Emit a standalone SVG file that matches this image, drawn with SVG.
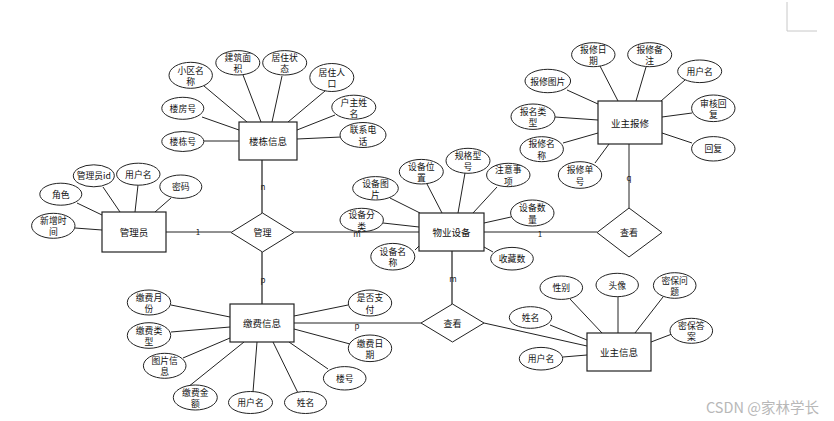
<svg xmlns="http://www.w3.org/2000/svg" width="834" height="421" viewBox="0 0 834 421">
<style>
text{font-family:"Noto Sans CJK SC","Liberation Sans",sans-serif;fill:#111;text-anchor:middle;dominant-baseline:central}
.ent rect{fill:#fff;stroke:#222;stroke-width:1.2}
.ent text{font-size:9.5px}
.attr ellipse{fill:#fff;stroke:#222;stroke-width:1}
.attr text{font-size:8.8px}
.rel polygon{fill:#fff;stroke:#222;stroke-width:1}
.rel text{font-size:9px}
#connectors line{stroke:#222;stroke-width:1}
#connectors line.thick{stroke:#555;stroke-width:1.6}
.card{font-size:8px;fill:#222}
.wm{font-size:14.5px;fill:#b8b8b8;text-anchor:start;dominant-baseline:auto}
</style>
<rect width="834" height="421" fill="#fff"/>
<path d="M787,2 V31 H817" fill="none" stroke="#c8c8c8" stroke-width="1"/>
<g id="connectors">
<line x1="166" y1="232" x2="231" y2="232"/>
<line x1="294" y1="232" x2="419" y2="232"/>
<line class="thick" x1="262" y1="160" x2="262" y2="213"/>
<line class="thick" x1="262" y1="252" x2="262" y2="304"/>
<line x1="484" y1="232" x2="597" y2="232"/>
<line x1="629" y1="144" x2="629" y2="208"/>
<line class="thick" x1="452" y1="251" x2="452" y2="304"/>
<line x1="294" y1="323" x2="421" y2="323"/>
<line x1="484" y1="323" x2="587" y2="346"/>
<line x1="204" y1="86" x2="247" y2="122"/>
<line x1="243" y1="75" x2="261" y2="122"/>
<line x1="282" y1="76" x2="272" y2="122"/>
<line x1="325" y1="91" x2="288" y2="122"/>
<line x1="335" y1="115" x2="297" y2="130"/>
<line x1="341" y1="137" x2="297" y2="139"/>
<line x1="202" y1="117" x2="239" y2="130"/>
<line x1="204" y1="141" x2="239" y2="141"/>
<line x1="103" y1="187" x2="120" y2="212"/>
<line x1="138" y1="185" x2="135" y2="212"/>
<line x1="171" y1="198" x2="155" y2="212"/>
<line x1="77" y1="203" x2="102" y2="215"/>
<line x1="75" y1="228" x2="102" y2="230"/>
<line x1="427" y1="184" x2="442" y2="213"/>
<line x1="465" y1="173" x2="458" y2="213"/>
<line x1="497" y1="187" x2="473" y2="213"/>
<line x1="390" y1="198" x2="420" y2="213"/>
<line x1="383" y1="223" x2="419" y2="227"/>
<line x1="511" y1="217" x2="484" y2="223"/>
<line x1="415" y1="250" x2="419" y2="246"/>
<line x1="493" y1="252" x2="484" y2="247"/>
<line x1="600" y1="66" x2="618" y2="101"/>
<line x1="646" y1="67" x2="636" y2="101"/>
<line x1="685" y1="80" x2="661" y2="101"/>
<line x1="567" y1="90" x2="598" y2="104"/>
<line x1="692" y1="113" x2="662" y2="117"/>
<line x1="555" y1="117" x2="598" y2="120"/>
<line x1="563" y1="143" x2="598" y2="133"/>
<line x1="692" y1="143" x2="662" y2="133"/>
<line x1="595" y1="163" x2="609" y2="144"/>
<line x1="171" y1="305" x2="230" y2="317"/>
<line x1="171" y1="332" x2="230" y2="327"/>
<line x1="183" y1="358" x2="230" y2="338"/>
<line x1="188" y1="387" x2="244" y2="342"/>
<line x1="253" y1="392" x2="257" y2="342"/>
<line x1="298" y1="393" x2="273" y2="342"/>
<line x1="328" y1="369" x2="289" y2="342"/>
<line x1="348" y1="305" x2="294" y2="316"/>
<line x1="350" y1="344" x2="294" y2="329"/>
<line x1="570" y1="299" x2="602" y2="333"/>
<line x1="618" y1="297" x2="618" y2="333"/>
<line x1="663" y1="297" x2="635" y2="333"/>
<line x1="550" y1="325" x2="587" y2="340"/>
<line x1="672" y1="334" x2="651" y2="342"/>
<line x1="563" y1="357" x2="587" y2="355"/>
<text class="card" x="198" y="231">1</text>
<text class="card" x="263" y="186">n</text>
<text class="card" x="357" y="233">m</text>
<text class="card" x="263" y="279">p</text>
<text class="card" x="540" y="233">1</text>
<text class="card" x="629" y="177">q</text>
<text class="card" x="453" y="278">m</text>
<text class="card" x="357" y="325">p</text>
</g>

<g id="rel-manage" class="rel"><polygon points="231,232.5 262.5,213 294,232.5 262.5,252"/><text x="262.5" y="232.5">管理</text></g>
<g id="rel-view-device" class="rel"><polygon points="597,232.5 629,208 662,232.5 629,257"/><text x="629" y="232.5">查看</text></g>
<g id="rel-view-fee" class="rel"><polygon points="421,323 452.5,304 484,323 452.5,342"/><text x="452.5" y="323">查看</text></g>

<g id="ent-building" class="ent"><rect x="239" y="122" width="58" height="38"/><text x="268" y="141">楼栋信息</text></g>
<g id="ent-admin" class="ent"><rect x="102" y="212" width="64" height="40"/><text x="134" y="232">管理员</text></g>
<g id="ent-device" class="ent"><rect x="419" y="213" width="65" height="38"/><text x="451.5" y="232">物业设备</text></g>
<g id="ent-repair" class="ent"><rect x="598" y="101" width="64" height="43"/><text x="630" y="122.5">业主报修</text></g>
<g id="ent-fee" class="ent"><rect x="230" y="304" width="64" height="38"/><text x="262" y="323">缴费信息</text></g>
<g id="ent-owner" class="ent"><rect x="587" y="333" width="64" height="38"/><text x="619" y="352">业主信息</text></g>

<g id="a-xqmc" class="attr"><ellipse cx="190.7" cy="75.3" rx="21.7" ry="13"/><text x="190.7" y="70">小区名<tspan x="190.7" dy="10.8">称</tspan></text></g>
<g id="a-jzmj" class="attr"><ellipse cx="237.8" cy="62.8" rx="22" ry="12.2"/><text x="237.8" y="57.5">建筑面<tspan x="237.8" dy="10.8">积</tspan></text></g>
<g id="a-jzzt" class="attr"><ellipse cx="284.7" cy="62.8" rx="22" ry="12.2"/><text x="284.7" y="57.5">居住状<tspan x="284.7" dy="10.8">态</tspan></text></g>
<g id="a-jzrk" class="attr"><ellipse cx="331.8" cy="77.5" rx="22" ry="14"/><text x="331.8" y="72">居住人<tspan x="331.8" dy="10.8">口</tspan></text></g>
<g id="a-hzxm" class="attr"><ellipse cx="353.8" cy="107.2" rx="22" ry="12"/><text x="353.8" y="102">户主姓<tspan x="353.8" dy="10.8">名</tspan></text></g>
<g id="a-lxdh" class="attr"><ellipse cx="363" cy="135" rx="23" ry="12.5"/><text x="363" y="129.7">联系电<tspan x="363" dy="10.8">话</tspan></text></g>
<g id="a-lfh" class="attr"><ellipse cx="182.8" cy="108.3" rx="21" ry="11"/><text x="182.8" y="108.3">楼房号</text></g>
<g id="a-ldh" class="attr"><ellipse cx="182.8" cy="141.5" rx="21" ry="10"/><text x="182.8" y="141.5">楼栋号</text></g>

<g id="a-glyid" class="attr"><ellipse cx="93.8" cy="175.8" rx="20.5" ry="11"/><text x="93.8" y="175.8">管理员id</text></g>
<g id="a-admin-yhm" class="attr"><ellipse cx="138.3" cy="174.2" rx="21.7" ry="11"/><text x="138.3" y="174.2">用户名</text></g>
<g id="a-mm" class="attr"><ellipse cx="180.8" cy="186.7" rx="21" ry="11.7"/><text x="180.8" y="186.7">密码</text></g>
<g id="a-js" class="attr"><ellipse cx="60.8" cy="194.2" rx="21" ry="11"/><text x="60.8" y="194.2">角色</text></g>
<g id="a-xzsj" class="attr"><ellipse cx="53.3" cy="225.8" rx="21.7" ry="12.5"/><text x="53.3" y="220.5">新增时<tspan x="53.3" dy="10.8">间</tspan></text></g>

<g id="a-sbwz" class="attr"><ellipse cx="421.3" cy="171.7" rx="22" ry="12.3"/><text x="421.3" y="166.4">设备位<tspan x="421.3" dy="10.8">置</tspan></text></g>
<g id="a-ggxh" class="attr"><ellipse cx="468" cy="160.8" rx="22" ry="12.5"/><text x="468" y="155.5">规格型<tspan x="468" dy="10.8">号</tspan></text></g>
<g id="a-zysx" class="attr"><ellipse cx="508.3" cy="175" rx="21.7" ry="11.7"/><text x="508.3" y="169.7">注意事<tspan x="508.3" dy="10.8">项</tspan></text></g>
<g id="a-sbtp" class="attr"><ellipse cx="375.5" cy="188.3" rx="22.8" ry="11.7"/><text x="375.5" y="183">设备图<tspan x="375.5" dy="10.8">片</tspan></text></g>
<g id="a-sbfl" class="attr"><ellipse cx="361.7" cy="220" rx="21.7" ry="11.7"/><text x="361.7" y="214.7">设备分<tspan x="361.7" dy="10.8">类</tspan></text></g>
<g id="a-sbsl" class="attr"><ellipse cx="532.3" cy="213" rx="21.7" ry="13"/><text x="532.3" y="207.7">设备数<tspan x="532.3" dy="10.8">量</tspan></text></g>
<g id="a-sbmc" class="attr"><ellipse cx="392.8" cy="256.7" rx="22" ry="13.3"/><text x="392.8" y="251.4">设备名<tspan x="392.8" dy="10.8">称</tspan></text></g>
<g id="a-scs" class="attr"><ellipse cx="512" cy="258.7" rx="21.3" ry="11.3"/><text x="512" y="258.7">收藏数</text></g>

<g id="a-bxrq" class="attr"><ellipse cx="593.3" cy="54.7" rx="21.7" ry="12"/><text x="593.3" y="49.4">报修日<tspan x="593.3" dy="10.8">期</tspan></text></g>
<g id="a-bxbz" class="attr"><ellipse cx="649.7" cy="54.7" rx="22" ry="12"/><text x="649.7" y="49.4">报修备<tspan x="649.7" dy="10.8">注</tspan></text></g>
<g id="a-repair-yhm" class="attr"><ellipse cx="699.7" cy="71.3" rx="22" ry="11.3"/><text x="699.7" y="71.3">用户名</text></g>
<g id="a-bxtp" class="attr"><ellipse cx="547.8" cy="81" rx="22.8" ry="11.7"/><text x="547.8" y="81">报修图片</text></g>
<g id="a-shhf" class="attr"><ellipse cx="713.3" cy="108.3" rx="21.7" ry="13.3"/><text x="713.3" y="103">审核回<tspan x="713.3" dy="10.8">复</tspan></text></g>
<g id="a-bmlx" class="attr"><ellipse cx="533" cy="116.7" rx="22" ry="12.7"/><text x="533" y="111.4">报名类<tspan x="533" dy="10.8">型</tspan></text></g>
<g id="a-bxmc" class="attr"><ellipse cx="541.7" cy="149.2" rx="21.7" ry="12.5"/><text x="541.7" y="143.9">报修名<tspan x="541.7" dy="10.8">称</tspan></text></g>
<g id="a-hf" class="attr"><ellipse cx="713.3" cy="148.8" rx="21.7" ry="12.2"/><text x="713.3" y="148.8">回复</text></g>
<g id="a-bxdh" class="attr"><ellipse cx="580" cy="175" rx="21.7" ry="13.3"/><text x="580" y="169.7">报修单<tspan x="580" dy="10.8">号</tspan></text></g>

<g id="a-jfyf" class="attr"><ellipse cx="149" cy="302.5" rx="21.7" ry="12.5"/><text x="149" y="297.2">缴费月<tspan x="149" dy="10.8">份</tspan></text></g>
<g id="a-jflx" class="attr"><ellipse cx="149" cy="335.5" rx="21.7" ry="12.8"/><text x="149" y="330.2">缴费类<tspan x="149" dy="10.8">型</tspan></text></g>
<g id="a-tpxx" class="attr"><ellipse cx="164.7" cy="365.8" rx="21.3" ry="12.5"/><text x="164.7" y="360.5">图片信<tspan x="164.7" dy="10.8">息</tspan></text></g>
<g id="a-jfje" class="attr"><ellipse cx="195.3" cy="397.5" rx="22" ry="12.5"/><text x="195.3" y="392.2">缴费金<tspan x="195.3" dy="10.8">额</tspan></text></g>
<g id="a-fee-yhm" class="attr"><ellipse cx="250.5" cy="402.5" rx="22" ry="11"/><text x="250.5" y="402.5">用户名</text></g>
<g id="a-fee-xm" class="attr"><ellipse cx="305.5" cy="402.5" rx="21" ry="11"/><text x="305.5" y="402.5">姓名</text></g>
<g id="a-lh" class="attr"><ellipse cx="344.7" cy="378.3" rx="21.3" ry="11.7"/><text x="344.7" y="378.3">楼号</text></g>
<g id="a-sfzf" class="attr"><ellipse cx="370" cy="303" rx="21.7" ry="13"/><text x="370" y="297.7">是否支<tspan x="370" dy="10.8">付</tspan></text></g>
<g id="a-jfrq" class="attr"><ellipse cx="370" cy="348.3" rx="21.7" ry="13.3"/><text x="370" y="343">缴费日<tspan x="370" dy="10.8">期</tspan></text></g>

<g id="a-xb" class="attr"><ellipse cx="561.3" cy="287.7" rx="21.3" ry="11.7"/><text x="561.3" y="287.7">性别</text></g>
<g id="a-tx" class="attr"><ellipse cx="617.2" cy="285" rx="21.2" ry="11.7"/><text x="617.2" y="285">头像</text></g>
<g id="a-mbwt" class="attr"><ellipse cx="674.7" cy="285.5" rx="21.3" ry="12.8"/><text x="674.7" y="280.2">密保问<tspan x="674.7" dy="10.8">题</tspan></text></g>
<g id="a-owner-xm" class="attr"><ellipse cx="530.5" cy="317.5" rx="21.2" ry="10.8"/><text x="530.5" y="317.5">姓名</text></g>
<g id="a-mbda" class="attr"><ellipse cx="691.3" cy="330.8" rx="21.3" ry="12.5"/><text x="691.3" y="325.5">密保答<tspan x="691.3" dy="10.8">案</tspan></text></g>
<g id="a-owner-yhm" class="attr"><ellipse cx="541" cy="358.7" rx="21.7" ry="11.3"/><text x="541" y="358.7">用户名</text></g>

<text class="wm" x="706" y="413">CSDN @家林学长</text>
</svg>
